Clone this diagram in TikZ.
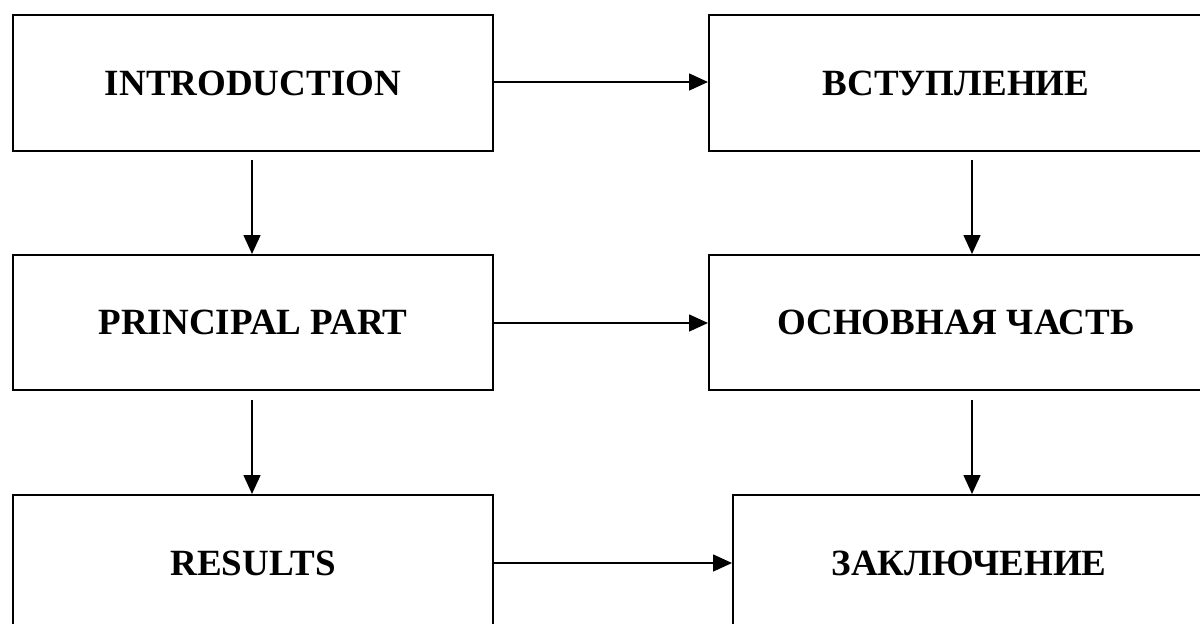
\documentclass[tikz,border=0pt]{standalone}
\usepackage{fontspec}
\setmainfont{Liberation Serif}
\usetikzlibrary{arrows.meta,calc}
\tikzset{
  box/.style={draw=black, line width=2pt, rectangle, inner sep=0pt, anchor=north west,
    font=\bfseries\fontsize{37}{40}\selectfont, align=center},
  arr/.style={line width=1.5pt, -{Triangle[length=19pt,width=17pt]}}
}
\begin{document}
\begin{tikzpicture}[x=1pt,y=-1pt]
\useasboundingbox (0,0) rectangle (1200,624);
\clip (0,0) rectangle (1200,624);
\fill[white] (0,0) rectangle (1200,624);
% left column
\node[box, minimum width=480pt, minimum height=136pt] (i) at (12,14) {INTRODUCTION};
\node[box, minimum width=480pt, minimum height=135pt] (p) at (12,254) {PRINCIPAL PART};
\node[box, minimum width=480pt, minimum height=136pt] (r) at (12,494) {RESULTS};
% right column
\node[box, minimum width=494pt, minimum height=136pt] (v) at (708,14) {ВСТУПЛЕНИЕ};
\node[box, minimum width=494pt, minimum height=135pt] (o) at (708,254) {ОСНОВНАЯ ЧАСТЬ};
\node[box, minimum width=472pt, minimum height=136pt] (z) at (732,494) {ЗАКЛЮЧЕНИЕ};
\coordinate (L) at (252,0);
\coordinate (R) at (972,0);
% horizontal arrows
\draw[arr] ($(i.north east)+(0,68)$) -- ($(v.north west)+(0,68)$);
\draw[arr] ($(p.north east)+(0,69)$) -- ($(o.north west)+(0,69)$);
\draw[arr] ($(r.north east)+(0,69)$) -- ($(z.north west)+(0,69)$);
% vertical arrows
\draw[arr] ($(i.south -| L)+(0,8)$) -- (p.north -| L);
\draw[arr] ($(p.south -| L)+(0,9)$) -- (r.north -| L);
\draw[arr] ($(v.south -| R)+(0,8)$) -- (o.north -| R);
\draw[arr] ($(o.south -| R)+(0,9)$) -- (z.north -| R);
\end{tikzpicture}
\end{document}
